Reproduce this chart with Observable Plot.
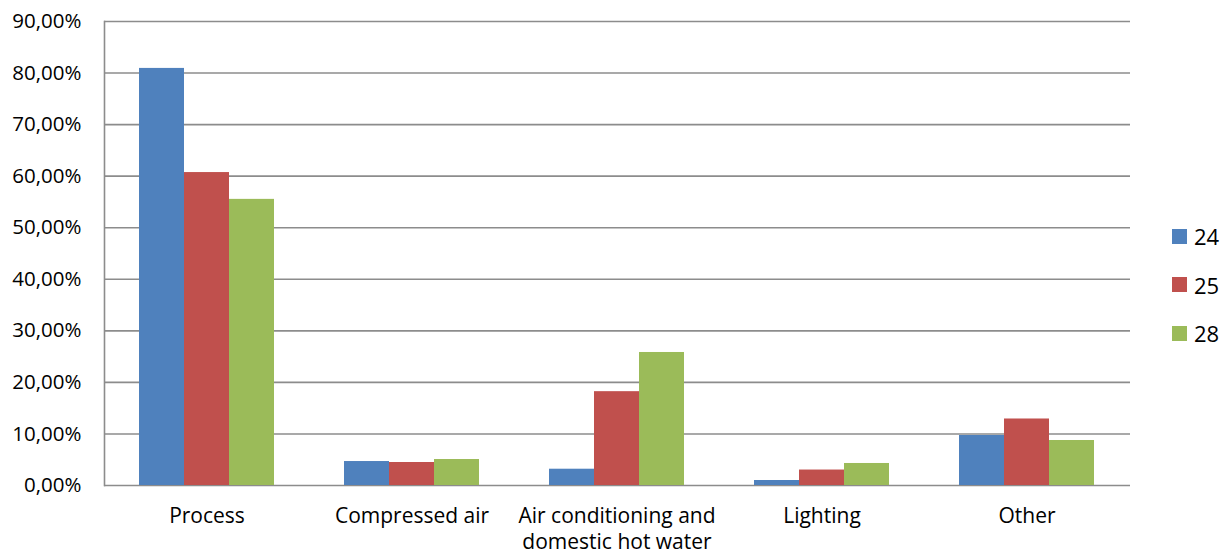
<!DOCTYPE html>
<html>
<head>
<meta charset="utf-8">
<script src="https://cdn.jsdelivr.net/npm/d3@7"></script>
<script src="https://cdn.jsdelivr.net/npm/@observablehq/plot@0.6"></script>
<style>
  html, body { margin: 0; padding: 0; background: #fff; }
  #wrap { position: relative; width: 1221px; height: 553px; font-family: "Open Sans", Lato, sans-serif; }
  #grid, #bars { position: absolute; left: 0; top: 0; }
  #legend { position: absolute; left: 1172px; top: 212px; font-size: 22px; color: #000; }
  .item { display: flex; align-items: center; height: 48.5px; }
  .sw { width: 15px; height: 15px; margin-right: 7px; }
</style>
</head>
<body>
<div id="wrap"><div id="grid"></div><div id="bars"></div><div id="legend"></div></div>
<script>
const categories = ["Process", "Compressed air", "Air conditioning and\ndomestic hot water", "Lighting", "Other"];
const series = ["24", "25", "28"];
const values24 = [0.809, 0.0465, 0.0316, 0.0097, 0.097];
const values25 = [0.607, 0.0446, 0.182, 0.030, 0.129];
const values28 = [0.555, 0.0504, 0.258, 0.0427, 0.0873];
const colors = ["#4F81BD", "#C0504D", "#9BBB59"];
const yTicks = [0, 0.1, 0.2, 0.3, 0.4, 0.5, 0.6, 0.7, 0.8, 0.9];
const fmt = d => (d * 100).toFixed(2).replace(".", ",") + "%";

const seriesValues = [values24, values25, values28];
const table = categories.flatMap((c, i) => series.map((s, j) => ({category: c, series: s, value: seriesValues[j][i]})));

const common = {
  width: 1221,
  height: 553,
  marginLeft: 104,
  marginRight: 91,
  marginTop: 21,
  marginBottom: 68,
  y: {domain: [0, 0.9], axis: null}
};

const grid = Plot.plot({
  ...common,
  style: {fontFamily: "'Open Sans', Lato, sans-serif", fontSize: "20px", color: "#000", background: "#fff", overflow: "visible"},
  marks: [
    Plot.ruleY(yTicks, {y: d => d, stroke: "#8c8c8c", strokeWidth: 1.6, strokeOpacity: 1}),
    Plot.frame({anchor: "left", stroke: "#8c8c8c", strokeWidth: 1.6, strokeOpacity: 1}),
    Plot.axisY(yTicks, {anchor: "left", tickSize: 0, tickPadding: 23, tickFormat: fmt, fontSize: 20.5, label: null})
  ]
});
document.getElementById("grid").appendChild(grid);

const bars = Plot.plot({
  ...common,
  style: {fontFamily: "'Open Sans', Lato, sans-serif", fontSize: "20px", color: "#000", background: "transparent", overflow: "visible"},
  fx: {domain: categories, paddingInner: 0.33, paddingOuter: 0.165, label: null},
  x: {domain: series, axis: null, padding: 0},
  color: {domain: series, range: colors},
  marks: [
    Plot.barY(table, {fx: "category", x: "series", y: "value", fill: "series", inset: 0}),
    Plot.axisFx({anchor: "bottom", tickSize: 0, tickPadding: 19, fontSize: 21, lineHeight: 1.25, label: null})
  ]
});
document.getElementById("bars").appendChild(bars);

const legend = document.getElementById("legend");
series.forEach((s, i) => {
  const item = document.createElement("div");
  item.className = "item";
  item.innerHTML = `<div class="sw" style="background:${colors[i]}"></div><span>${s}</span>`;
  legend.appendChild(item);
});
</script>
</body>
</html>
